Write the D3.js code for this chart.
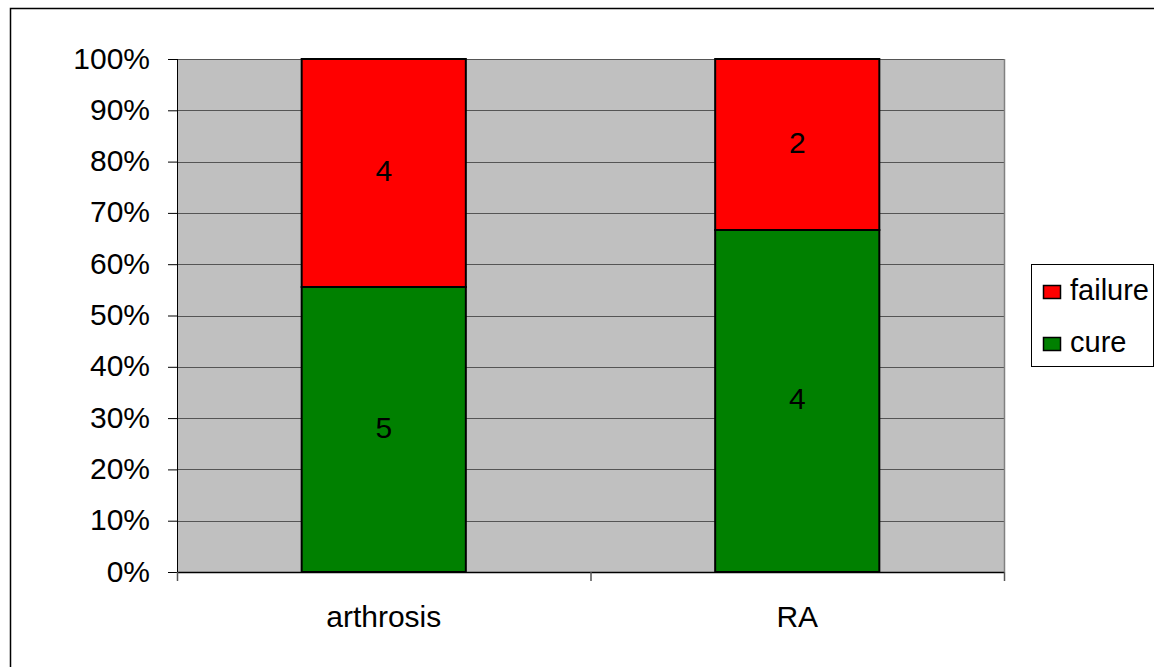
<!DOCTYPE html>
<html>
<head>
<meta charset="utf-8">
<script src="https://cdn.jsdelivr.net/npm/d3@7"></script>
<style>
  body { margin: 0; background: #fff; }
  text { font-family: "Liberation Sans", Arial, sans-serif; }
</style>
</head>
<body>
<svg id="chart"></svg>
<script>
var categories = ['arthrosis', 'RA'];
var cure = [5, 4];
var failure = [4, 2];
var seriesNames = ['cure', 'failure'];
var seriesColors = ['#008000', '#FF0000'];
var yTicks = [0, 0.1, 0.2, 0.3, 0.4, 0.5, 0.6, 0.7, 0.8, 0.9, 1];

var width = 1154, height = 667;
var fontSize = 30;
var svg = d3.select('#chart').attr('width', width).attr('height', height);

// outer chart border
svg.append('rect').attr('x', 10.5).attr('y', 8.5)
  .attr('width', width + 10).attr('height', height + 10)
  .attr('fill', 'none').attr('stroke', '#000').attr('stroke-width', 1.5);

var plotLeft = 177, plotRight = 1004, plotTop = 59, plotBottom = 572;

var x = d3.scaleBand().domain(categories).range([plotLeft, plotRight])
  .paddingInner(0.603).paddingOuter(0.3015);
var y = d3.scaleLinear().domain([0, 1]).range([plotBottom, plotTop]);

// plot area
svg.append('rect').attr('x', plotLeft).attr('y', plotTop)
  .attr('width', plotRight - plotLeft).attr('height', plotBottom - plotTop)
  .attr('fill', '#C0C0C0');

// gridlines
svg.append('g').selectAll('line').data(yTicks.slice(1)).enter().append('line')
  .attr('x1', plotLeft).attr('x2', plotRight)
  .attr('y1', function(d) { return Math.round(y(d)) + 0.5; })
  .attr('y2', function(d) { return Math.round(y(d)) + 0.5; })
  .attr('stroke', '#555').attr('stroke-width', 1.2);

// plot right border
svg.append('line').attr('x1', plotRight + 0.5).attr('x2', plotRight + 0.5)
  .attr('y1', plotTop).attr('y2', plotBottom)
  .attr('stroke', '#808080').attr('stroke-width', 1.5);

// stacked percentage data
var rows = categories.map(function(c, i) {
  var total = cure[i] + failure[i];
  return { cat: c, values: [cure[i], failure[i]], total: total };
});

var bars = svg.append('g');
rows.forEach(function(r) {
  var acc = 0;
  r.values.forEach(function(v, j) {
    var y0 = acc / r.total, y1 = (acc + v) / r.total;
    acc += v;
    bars.append('rect')
      .attr('x', x(r.cat)).attr('width', x.bandwidth())
      .attr('y', y(y1)).attr('height', y(y0) - y(y1))
      .attr('fill', seriesColors[j]).attr('stroke', '#000').attr('stroke-width', 2);
    bars.append('text')
      .attr('x', x(r.cat) + x.bandwidth() / 2)
      .attr('y', (y(y0) + y(y1)) / 2)
      .attr('dy', '0.27em').attr('text-anchor', 'middle')
      .attr('font-size', fontSize).text(v);
  });
});

// y axis
var yAxis = d3.axisLeft(y).tickValues(yTicks).tickSize(9).tickPadding(18)
  .tickFormat(d3.format('.0%'));
var gy = svg.append('g').attr('transform', 'translate(' + plotLeft + ',0)').call(yAxis);
gy.selectAll('text').attr('font-size', fontSize).attr('fill', '#000').attr('dy', '0.3em')
  .style('font-family', '"Liberation Sans", Arial, sans-serif');
gy.selectAll('line').attr('stroke', '#000');
gy.select('.domain').attr('stroke', '#000').attr('d', 'M0.5,' + plotTop + 'V' + (plotBottom + 9));

// x axis
var gx = svg.append('g').attr('transform', 'translate(0,' + plotBottom + ')');
gx.append('line').attr('x1', plotLeft).attr('x2', plotRight).attr('y1', 0.5).attr('y2', 0.5)
  .attr('stroke', '#000').attr('stroke-width', 1.5);
var slot = (plotRight - plotLeft) / categories.length;
gx.selectAll('line.tick').data(d3.range(categories.length + 1)).enter().append('line')
  .attr('class', 'tick')
  .attr('x1', function(d) { return plotLeft + d * slot + 0.5; })
  .attr('x2', function(d) { return plotLeft + d * slot + 0.5; })
  .attr('y1', 0).attr('y2', 9).attr('stroke', '#555').attr('stroke-width', 1.5);
gx.selectAll('text').data(categories).enter().append('text')
  .attr('x', function(d) { return x(d) + x.bandwidth() / 2; })
  .attr('y', 55).attr('text-anchor', 'middle').attr('font-size', fontSize).text(function(d) { return d; });

// legend
var lg = svg.append('g');
lg.append('rect').attr('x', 1031.5).attr('y', 264.5).attr('width', 122).attr('height', 102)
  .attr('fill', '#fff').attr('stroke', '#000').attr('stroke-width', 1);
var legendItems = seriesNames.map(function(n, i) { return { name: n, color: seriesColors[i] }; }).reverse();
legendItems.forEach(function(d, i) {
  var base = 300 + i * 52;
  lg.append('rect').attr('x', 1043.5).attr('y', base - 14.5).attr('width', 17).attr('height', 13)
    .attr('fill', d.color).attr('stroke', '#000').attr('stroke-width', 1.5);
  lg.append('text').attr('x', 1070).attr('y', base)
    .attr('font-size', 29).text(d.name);
});
</script>
</body>
</html>
